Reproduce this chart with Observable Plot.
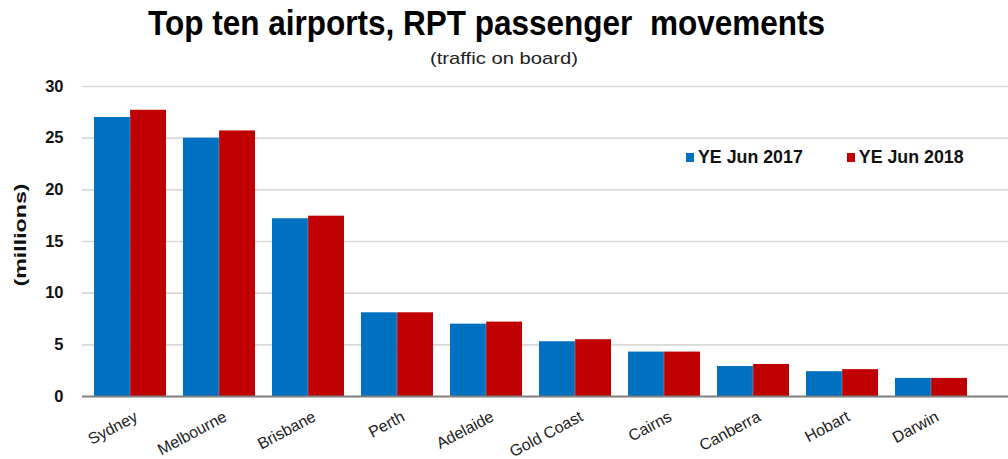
<!DOCTYPE html>
<html>
<head>
<meta charset="utf-8">
<script src="https://cdn.jsdelivr.net/npm/d3@7"></script>
<script src="https://cdn.jsdelivr.net/npm/@observablehq/plot@0.6"></script>
<style>
  html, body { margin: 0; padding: 0; background: #fff; }
  #wrap { position: relative; width: 1008px; height: 459px; overflow: hidden; font-family: "Liberation Sans", Arial, sans-serif; }
  .fit { position: absolute; white-space: nowrap; transform-origin: 0 0; }
  #title { top: 3px; font-weight: bold; font-size: 35px; color: #000; }
  #subtitle { top: 49px; font-size: 17px; color: #222; }
  #ylabel { position: absolute; white-space: nowrap; font-weight: bold; font-size: 17px; color: #111; }
  #legend { position: absolute; left: 686px; top: 147px; font-weight: bold; font-size: 17.8px; color: #111; white-space: nowrap; }
  #legend span.sw { display: inline-block; width: 8px; height: 9px; margin-right: 4px; vertical-align: 1px; }
  #chart { position: absolute; left: 0; top: 0; }
</style>
</head>
<body>
<div id="wrap">
  <div id="chart"></div>
  <div id="title" class="fit">Top ten airports, RPT passenger&nbsp; movements</div>
  <div id="subtitle" class="fit">(traffic on board)</div>
  <div id="ylabel">(millions)</div>
  <div id="legend"></div>
</div>
<script>
const cities = ["Sydney", "Melbourne", "Brisbane", "Perth", "Adelaide", "Gold Coast", "Cairns", "Canberra", "Hobart", "Darwin"];
const series = ["YE Jun 2017", "YE Jun 2018"];
const ye2017 = [27.0, 25.0, 17.2, 8.1, 7.0, 5.3, 4.3, 2.9, 2.4, 1.75];
const ye2018 = [27.7, 25.7, 17.45, 8.1, 7.2, 5.5, 4.3, 3.1, 2.6, 1.75];
const yTicks = [0, 5, 10, 15, 20, 25, 30];
const colors = ["#0070C0", "#C00000"];

const data17 = cities.map((c, i) => ({city: c, value: ye2017[i]}));
const data18 = cities.map((c, i) => ({city: c, value: ye2018[i]}));

const W = 1008, H = 459;
const r0 = 85, r1 = 977, pad = 0.19;
const step = (r1 - r0) / (cities.length);
const bw = step * (1 - pad);
const half = bw / 2;

const chart = Plot.plot({
  width: W,
  height: H,
  marginLeft: 82,
  marginRight: 0,
  marginTop: 86,
  marginBottom: 63,
  style: {fontFamily: "'Liberation Sans', Arial, sans-serif", background: "transparent"},
  x: {domain: cities, range: [r0, r1], paddingInner: pad, paddingOuter: pad / 2, axis: null},
  y: {domain: [0, 30], axis: null},
  marks: [
    Plot.ruleY(yTicks.filter(d => d > 0), {stroke: "#d9d9d9", strokeWidth: 1.6}),
    Plot.barY(data17, {x: "city", y: "value", fill: colors[0], insetRight: half}),
    Plot.barY(data18, {x: "city", y: "value", fill: colors[1], insetLeft: half}),
    Plot.ruleY([0], {stroke: "#7f7f7f", strokeWidth: 2}),
    Plot.text(yTicks, {x: null, y: d => d, text: d => String(d), frameAnchor: "left", dx: -19, textAnchor: "end", fontSize: 16.5, fontWeight: "bold", fill: "#111"}),
    Plot.text(cities, {x: d => d, frameAnchor: "bottom", dy: 19, dx: 6, rotate: -28, textAnchor: "end", lineAnchor: "middle", fontSize: 16, fill: "#222", text: d => d})
  ]
});
document.getElementById("chart").appendChild(chart);

const legend = document.getElementById("legend");
series.forEach((s, i) => {
  const item = document.createElement("span");
  item.style.marginRight = i === 0 ? "44px" : "0";
  item.innerHTML = `<span class="sw" style="background:${colors[i]}"></span>${s}`;
  legend.appendChild(item);
});

// fit title/subtitle to the reference extents
function fit(id, left, width) {
  const el = document.getElementById(id);
  const w = el.getBoundingClientRect().width;
  el.style.left = left + "px";
  el.style.transform = `scaleX(${width / w})`;
}
fit("title", 148, 677);
fit("subtitle", 430, 148);

// y label: rotated, centered at (21, 235), length ~103px
const yl = document.getElementById("ylabel");
const ylw = yl.getBoundingClientRect().width, ylh = yl.getBoundingClientRect().height;
yl.style.left = (21 - ylw / 2) + "px";
yl.style.top = (235 - ylh / 2) + "px";
yl.style.transform = `rotate(-90deg) scaleX(${103 / ylw})`;
</script>
</body>
</html>
